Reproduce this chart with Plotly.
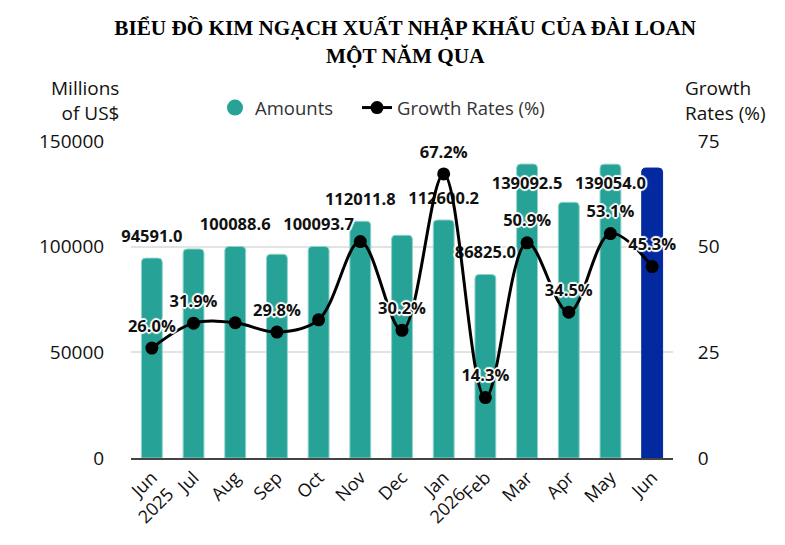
import plotly.graph_objects as go

months = ["Jun<br>2025", "Jul", "Aug", "Sep", "Oct", "Nov", "Dec",
          "Jan<br>2026", "Feb", "Mar", "Apr", "May", "Jun"]
amounts = [94591.0, 98900.0, 100088.6, 96400.0, 100093.7, 112011.8, 105400.0,
           112600.2, 86825.0, 139092.5, 121000.0, 139054.0, 137200.0]
amount_labels = ["94591.0", "", "100088.6", "", "100093.7", "112011.8", "",
                 "112600.2", "86825.0", "139092.5", "", "139054.0", ""]
amount_label_pos = ["top center"] * 9 + ["bottom center", "top center", "bottom center", "top center"]
growth = [26.0, 31.9, 32.0, 29.8, 32.7, 51.2, 30.2, 67.2, 14.3, 50.9, 34.5, 53.1, 45.3]
growth_labels = ["26.0%", "31.9%", "", "29.8%", "", "", "30.2%",
                 "67.2%", "14.3%", "50.9%", "34.5%", "53.1%", "45.3%"]

TEAL = "#26a296"
BLUE = "#0329a0"
bar_colors = [TEAL] * 12 + [BLUE]
bar_lines = ["#8fd3cb"] * 12 + [BLUE]

shadow = ("1px 1px 1px #fff, -1px -1px 1px #fff, 1px -1px 1px #fff, -1px 1px 1px #fff,"
          " 0px 2px 1px #fff, 0px -2px 1px #fff, 2px 0px 1px #fff, -2px 0px 1px #fff")
lab_font = dict(family="Open Sans", size=16.5, color="#111", weight="bold", shadow=shadow)

fig = go.Figure()
fig.add_trace(go.Bar(
    x=months, y=amounts, name="Amounts", showlegend=False,
    marker=dict(color=bar_colors, line=dict(color=bar_lines, width=1)),
))
fig.add_trace(go.Scatter(
    x=[None], y=[None], mode="markers", name="Amounts", legend="legend",
    marker=dict(color=TEAL, size=17, symbol="circle"),
))
fig.add_trace(go.Scatter(
    x=months, y=growth, yaxis="y2", name="Growth Rates (%)", legend="legend2",
    mode="lines+markers", line=dict(color="#000", width=3, shape="spline", smoothing=1),
    marker=dict(color="#000", size=13),
))
# bar value labels
fig.add_trace(go.Scatter(
    x=months, y=amounts, mode="text+markers", showlegend=False, hoverinfo="skip",
    marker=dict(size=18, color="rgba(0,0,0,0)"),
    text=amount_labels, textposition=amount_label_pos, textfont=lab_font, cliponaxis=False,
))
# growth labels
fig.add_trace(go.Scatter(
    x=months, y=growth, yaxis="y2", mode="text+markers", showlegend=False, hoverinfo="skip",
    marker=dict(size=18, color="rgba(0,0,0,0)"),
    text=growth_labels, textposition="top center", textfont=lab_font, cliponaxis=False,
))

tick_font = dict(family="Open Sans", size=19, color="#111")
legend_common = dict(orientation="h", xanchor="left", y=1.104, yanchor="middle",
                     font=dict(family="Open Sans", size=18.5, color="#333"),
                     bgcolor="rgba(0,0,0,0)", itemwidth=30)
fig.update_layout(
    width=785, height=545,
    margin=dict(l=123, r=120, t=133, b=95, autoexpand=False),
    plot_bgcolor="white", paper_bgcolor="white",
    bargap=0.5, barcornerradius=4,
    title=dict(text="BIỂU ĐỒ KIM NGẠCH XUẤT NHẬP KHẨU CỦA ĐÀI LOAN<br>MỘT NĂM QUA",
               x=0.506, xanchor="center", y=0.95, yanchor="middle",
               font=dict(family="Liberation Serif", size=21.2, color="#000", weight="bold")),
    legend=dict(x=0.155, **legend_common),
    legend2=dict(x=0.417, **legend_common),
    xaxis=dict(type="category", range=[-0.5, 12.5], tickangle=-45,
               tickfont=dict(family="Open Sans", size=18, color="#111"),
               showline=True, linecolor="#444", linewidth=2, showgrid=False, ticks="",
               automargin=False),
    yaxis=dict(range=[0, 150000], tickvals=[0, 50000, 100000, 150000],
               ticktext=["0", "50000", "100000", "150000"], tickfont=tick_font,
               showgrid=True, gridcolor="#e3e3e3", gridwidth=2, zeroline=False,
               ticks="outside", ticklen=22, tickcolor="rgba(0,0,0,0)", automargin=False),
    yaxis2=dict(range=[0, 75], tickvals=[0, 25, 50, 75], overlaying="y", side="right",
                tickfont=tick_font, showgrid=False, zeroline=False,
                ticks="outside", ticklen=20, tickcolor="rgba(0,0,0,0)", automargin=False),
    annotations=[
        dict(text="Millions<br>of US$", xref="paper", yref="paper", x=-0.018, y=1.129,
             xanchor="right", yanchor="middle", align="right", showarrow=False,
             font=dict(family="Open Sans", size=19, color="#111")),
        dict(text="Growth<br>Rates (%)", xref="paper", yref="paper", x=1.0185, y=1.129,
             xanchor="left", yanchor="middle", align="left", showarrow=False,
             font=dict(family="Open Sans", size=19, color="#111")),
    ],
)
fig.write_html("out.html")
